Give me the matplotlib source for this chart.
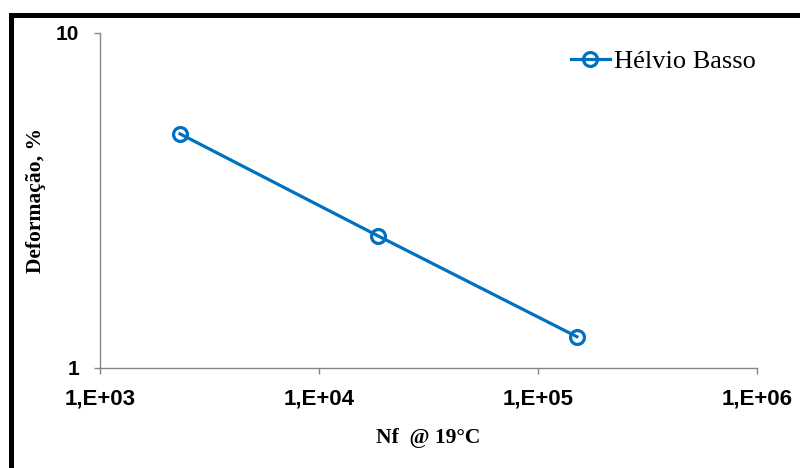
import matplotlib.pyplot as plt
from matplotlib.patches import Rectangle
from matplotlib.ticker import FixedLocator, NullLocator

# ciclos ate a ruptura e deformacao (%)
nf = [2320, 18600, 150700]
deformacao = [5.0, 2.48, 1.24]
x_ticks = [1e3, 1e4, 1e5, 1e6]
x_labels = ["1,E+03", "1,E+04", "1,E+05", "1,E+06"]
y_ticks = [1, 10]
y_labels = ["1", "10"]

fig = plt.figure(figsize=(8, 4.68), dpi=100)
ax = fig.add_axes([0.125, 0.2137, 0.821, 0.7158])

ax.plot(nf, deformacao, color="#0070C0", lw=2.3, marker="o", markersize=10,
        markerfacecolor="none", markeredgewidth=2.3, markeredgecolor="#0070C0",
        label="Hélvio Basso")

ax.set_xscale("log")
ax.set_yscale("log")
ax.set_xlim(1e3, 1e6)
ax.set_ylim(1, 10)

ax.xaxis.set_major_locator(FixedLocator(x_ticks))
ax.xaxis.set_minor_locator(NullLocator())
ax.yaxis.set_major_locator(FixedLocator(y_ticks))
ax.yaxis.set_minor_locator(NullLocator())
ax.set_xticklabels(x_labels, fontfamily="Liberation Sans", fontweight="bold", fontsize=16)
ax.set_yticklabels(y_labels, fontfamily="Liberation Sans", fontweight="bold", fontsize=15)
ax.tick_params(axis="x", direction="out", length=4, width=1, color="#868686", pad=11)
ax.tick_params(axis="y", direction="out", length=4, width=1, color="#868686", pad=11)

for s in ["top", "right"]:
    ax.spines[s].set_visible(False)
for s in ["left", "bottom"]:
    ax.spines[s].set_color("#868686")
    ax.spines[s].set_linewidth(1)

ax.set_xlabel("Nf  @ 19°C", fontfamily="Liberation Serif", fontweight="bold",
              fontsize=15.5, labelpad=13)
ax.set_ylabel("Deformação, %", fontfamily="Liberation Serif", fontweight="bold",
              fontsize=15.5, labelpad=7)

leg = ax.legend(loc="center right", bbox_to_anchor=(1.035, 0.916), frameon=False,
                prop={"family": "Liberation Serif", "size": 19},
                handlelength=1.5, handletextpad=0.15)

# borda preta (so topo e esquerda aparecem)
fig.patches.append(Rectangle((10.5 / 800, -0.1), 1.2, 1.1 - 15.5 / 468,
                             transform=fig.transFigure, fill=False,
                             edgecolor="black", lw=3.6, zorder=10))

fig.savefig("out.png", dpi=100)
